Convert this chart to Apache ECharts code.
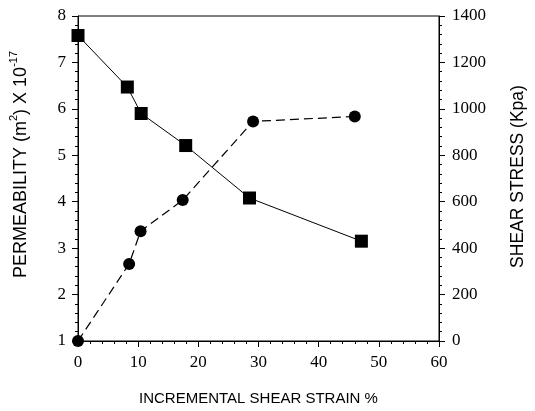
<!DOCTYPE html>
<html>
<head>
<meta charset="utf-8">
<script src="https://cdn.jsdelivr.net/npm/echarts@6/dist/echarts.min.js"></script>
<style>
  html, body { margin: 0; padding: 0; background: #fff; }
  #chart { width: 535px; height: 411px; }
</style>
</head>
<body>
<div id="chart"></div>
<script>
// Permeability (left axis) vs incremental shear strain
const strainPerm = [0, 8.2, 10.5, 17.9, 28.5, 47.1];
const permeability = [7.58, 6.47, 5.90, 5.21, 4.08, 3.15];

// Shear stress (right axis) vs incremental shear strain
const strainStress = [0, 8.5, 10.4, 17.4, 29.1, 46.0];
const shearStress = [0, 332, 473, 607, 946, 967];

const serif = '"Liberation Serif", "DejaVu Serif", serif';
const sans = '"Liberation Sans", Arial, sans-serif';

const chart = echarts.init(document.getElementById('chart'));

const axisLineStyle = { color: '#000', width: 1 };
const plain = v => String(v);

chart.setOption({
  animation: false,
  backgroundColor: '#fff',
  grid: { left: 77, right: 91, top: 16, bottom: 68, show: true, borderColor: '#000', borderWidth: 1, backgroundColor: 'transparent' },
  xAxis: {
    type: 'value',
    min: 0, max: 60, interval: 10,
    axisLine: { show: true, lineStyle: axisLineStyle },
    axisTick: { show: true, length: 6, lineStyle: axisLineStyle },
    minorTick: { show: true, splitNumber: 5, length: 3, lineStyle: axisLineStyle },
    splitLine: { show: false },
    axisLabel: { color: '#000', fontFamily: serif, fontSize: 17, margin: 13, formatter: plain },
    name: 'INCREMENTAL SHEAR STRAIN %',
    nameLocation: 'middle',
    nameGap: 50,
    nameTextStyle: { color: '#000', fontFamily: sans, fontSize: 15 }
  },
  yAxis: [
    {
      type: 'value',
      min: 1, max: 8, interval: 1,
      position: 'left',
      axisLine: { show: true, lineStyle: axisLineStyle },
      axisTick: { show: true, length: 6, lineStyle: axisLineStyle },
      minorTick: { show: true, splitNumber: 5, length: 3, lineStyle: axisLineStyle },
      splitLine: { show: false },
      axisLabel: { color: '#000', fontFamily: serif, fontSize: 17, margin: 12, formatter: plain },
      name: '{t|PERMEABILITY (m}{s|2}{t|) X 10}{s|-17}',
      nameLocation: 'middle',
      nameRotate: 90,
      nameGap: 48,
      nameTextStyle: {
        color: '#000',
        padding: [0, 0, 0, 28],
        rich: {
          t: { fontFamily: sans, fontSize: 18, color: '#000', verticalAlign: 'bottom', lineHeight: 22 },
          s: { fontFamily: sans, fontSize: 11, color: '#000', verticalAlign: 'top', lineHeight: 22, padding: [0, 0, 9, 0] }
        }
      }
    },
    {
      type: 'value',
      min: 0, max: 1400, interval: 200,
      position: 'right',
      axisLine: { show: true, lineStyle: axisLineStyle },
      axisTick: { show: true, length: 6, lineStyle: axisLineStyle },
      minorTick: { show: true, splitNumber: 5, length: 3, lineStyle: axisLineStyle },
      splitLine: { show: false },
      axisLabel: { color: '#000', fontFamily: serif, fontSize: 17, margin: 13, formatter: plain },
      name: 'SHEAR STRESS (Kpa)',
      nameLocation: 'middle',
      nameRotate: 90,
      nameGap: 70,
      nameTextStyle: { color: '#000', fontFamily: sans, fontSize: 17.5, padding: [0, 0, 0, 4] }
    }
  ],
  series: [
    {
      name: 'Permeability',
      type: 'line',
      yAxisIndex: 0,
      data: strainPerm.map((x, i) => [x, permeability[i]]),
      symbol: 'rect',
      symbolSize: 13,
      itemStyle: { color: '#000' },
      lineStyle: { color: '#000', width: 1 },
      z: 3
    },
    {
      name: 'Shear stress',
      type: 'line',
      yAxisIndex: 1,
      data: strainStress.map((x, i) => [x, shearStress[i]]),
      symbol: 'circle',
      symbolSize: 12,
      itemStyle: { color: '#000' },
      lineStyle: { color: '#000', width: 1.2, type: [9, 5] },
      z: 3
    }
  ]
});
</script>
</body>
</html>
